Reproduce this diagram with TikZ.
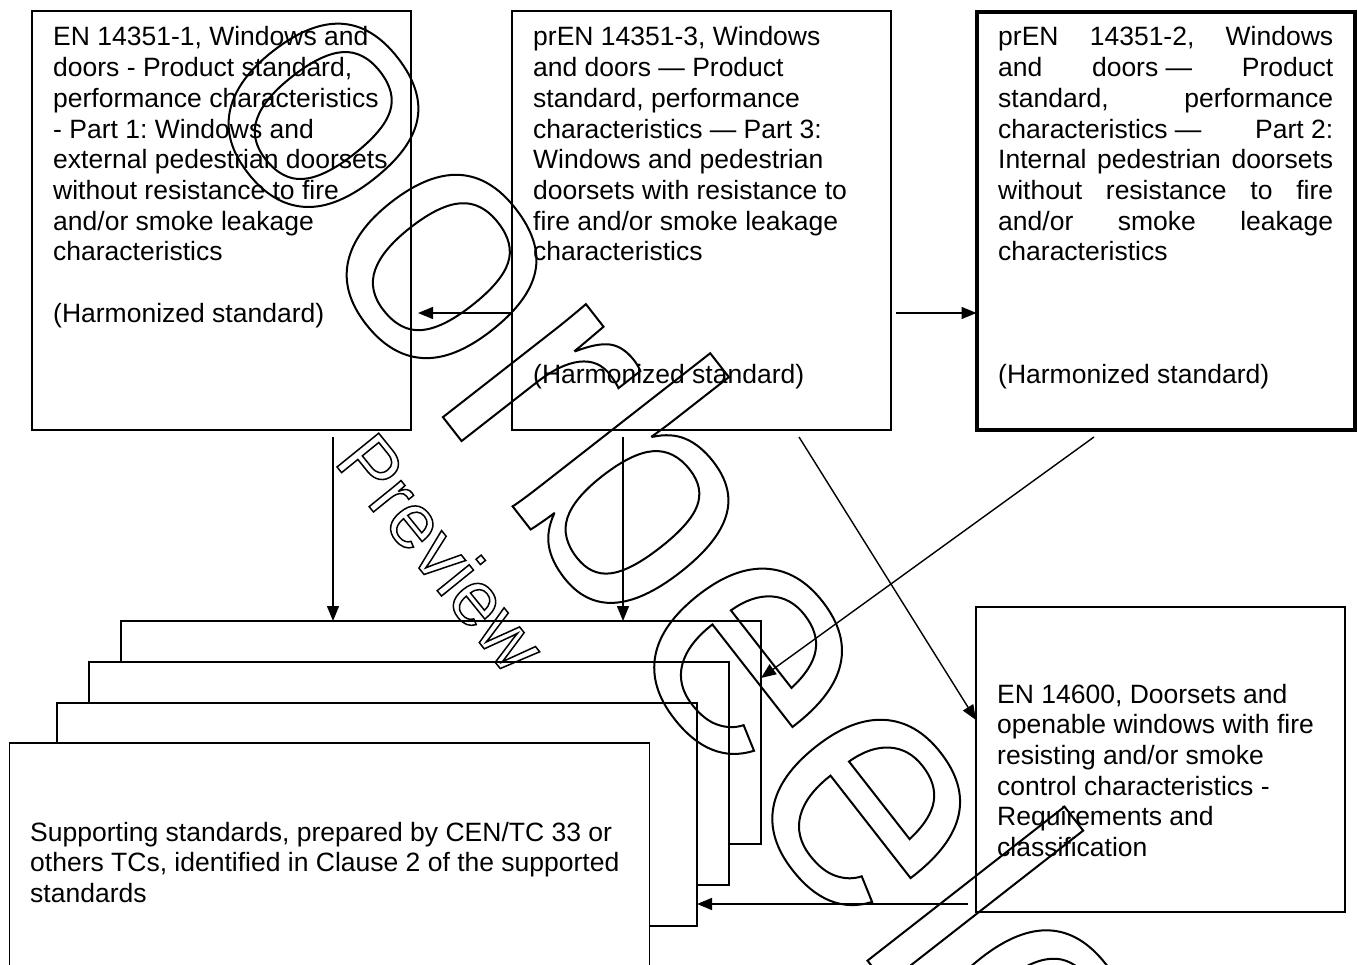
\documentclass[tikz,border=0pt]{standalone}
\usepackage{fontspec}
\setmainfont{Liberation Sans}
\usetikzlibrary{arrows.meta}
\frenchspacing
\newcommand\outlinetext[2]{\special{pdf:literal direct #1 w 1 Tr}#2\special{pdf:literal direct 0 Tr}}
\begin{document}
\begin{tikzpicture}[x=1pt,y=-1pt,
  box/.style={draw, line width=1.6pt, inner sep=0pt, outer sep=0pt},
  thickbox/.style={draw, line width=4pt, inner sep=0pt, outer sep=0pt},
  stackbox/.style={draw, fill=white, line width=1.6pt, inner sep=0pt, outer sep=0pt, minimum width=640pt, minimum height=223pt},
  txt/.style={anchor=base west, inner sep=0pt, font=\fontsize{26.5}{30.7}\selectfont},
  arr/.style={line width=1.4pt, -{Triangle[length=15pt,width=12pt]}},
  wm/.style={anchor=base west, inner sep=0pt, outer sep=0pt}]
\useasboundingbox (0,0) rectangle (1358,965);
\clip (0,0) rectangle (1358,965);

% top boxes
\node[box, minimum width=379pt, minimum height=419pt] (A) at (221.5,220.5) {};
\node[box, minimum width=379pt, minimum height=419pt] (B) at (701.5,220.5) {};
\node[thickbox, minimum width=378.5pt, minimum height=418pt] (C) at (1165.75,221) {};
\node[box, minimum width=369pt, minimum height=305pt] (D) at (1160.5,759.5) {};

\node[txt] (Atxt) at (53,46) {\vtop{%
\hbox{EN 14351-1, Windows and}
\hbox{doors - Product standard,}
\hbox{performance characteristics}
\hbox{- Part 1: Windows and}
\hbox{external pedestrian doorsets}
\hbox{without resistance to fire}
\hbox{and/or smoke leakage}
\hbox{characteristics}
\hbox{}
\hbox{(Harmonized standard)}}};

\node[txt] (Btxt) at (533,46) {\vtop{%
\hbox{prEN 14351-3, Windows}
\hbox{and doors — Product}
\hbox{standard, performance}
\hbox{characteristics — Part 3:}
\hbox{Windows and pedestrian}
\hbox{doorsets with resistance to}
\hbox{fire and/or smoke leakage}
\hbox{characteristics}
\hbox{}
\hbox{}
\hbox{}
\hbox{(Harmonized standard)}}};

\node[txt] (Ctxt) at (998,46) {\vtop{%
\hbox to 335pt{prEN\hfill 14351-2,\hfill Windows}
\hbox to 335pt{and\hfill doors —\hfill Product}
\hbox to 335pt{standard,\hfill performance}
\hbox to 335pt{characteristics —\hfill Part 2:}
\hbox to 335pt{Internal\hfill pedestrian\hfill doorsets}
\hbox to 335pt{without\hfill resistance\hfill to\hfill fire}
\hbox to 335pt{and/or\hfill smoke\hfill leakage}
\hbox{characteristics}
\hbox{}
\hbox{}
\hbox{}
\hbox{(Harmonized standard)}}};

\node[txt] (Dtxt) at (997,703) {\vtop{%
\hbox{EN 14600, Doorsets and}
\hbox{openable windows with fire}
\hbox{resisting and/or smoke}
\hbox{control characteristics -}
\hbox{Requirements and}
\hbox{classification}}};

% stacked supporting standards
\node[stackbox] (S1) at (441,732.5) {};
\node[stackbox] (S2) at (409.25,773.5) {};
\node[stackbox] (S3) at (377,814.25) {};
\node[stackbox] (S4) at (329.5,854.5) {};
\node[txt] (Stxt) at (30,841) {\vtop{%
\hbox{Supporting standards, prepared by CEN/TC 33 or}
\hbox{others TCs, identified in Clause 2 of the supported}
\hbox{standards}}};

% connectors
\coordinate (baE) at (418,313);
\coordinate (bcS) at (896,313);
\coordinate (a1S) at (333,437);
\coordinate (b1S) at (623,437);
\coordinate (bdS) at (799,437);
\coordinate (csS) at (1094,437);
\coordinate (dsS) at (968,904);
\draw[arr] (B.west |- baE) -- (baE);
\draw[arr] (bcS) -- (bcS -| C.west);
\draw[arr] (a1S) -- (a1S |- S1.north);
\draw[arr] (b1S) -- (b1S |- S1.north);
\draw[arr] (bdS) -- ([yshift=39.5pt]D.west);
\draw[arr] (csS) -- ([yshift=54.5pt]S1.east);
\draw[arr] (dsS) -- (dsS -| S3.east);

% watermark
\node[wm, rotate=-52, font=\fontsize{345}{345}\selectfont] (wmA) at (192,96) {\outlinetext{2}{oorbeelo}};
\node[wm, rotate=-51, font=\fontsize{78}{78}\selectfont] (wmB) at (333,462) {\outlinetext{1.5}{Preview}};
\end{tikzpicture}
\end{document}
